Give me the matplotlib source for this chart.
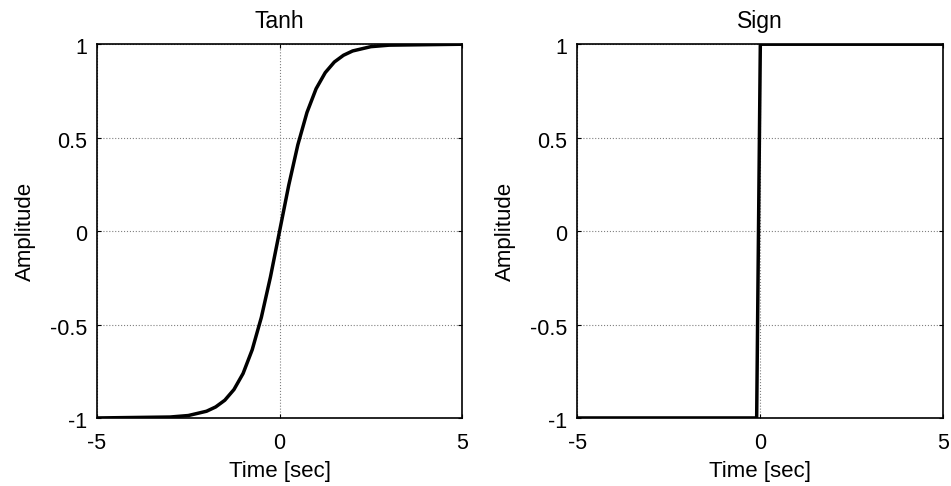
import numpy as np
import matplotlib.pyplot as plt
from matplotlib.transforms import ScaledTranslation

# Values
tanh_x = [-5, -3, -2.5, -2, -1.75, -1.5, -1.25, -1, -0.75, -0.5, -0.25, 0,
          0.25, 0.5, 0.75, 1, 1.25, 1.5, 1.75, 2, 2.5, 3, 5]
tanh_y = [-1, -0.995, -0.987, -0.964, -0.941, -0.905, -0.848, -0.762, -0.635,
          -0.462, -0.245, 0, 0.245, 0.462, 0.635, 0.762, 0.848, 0.905, 0.941,
          0.964, 0.987, 0.995, 1]
sign_x = [-5, -0.1, 0, 5]
sign_y = [-1, -1, 1, 1]

x_ticks = [-5, 0, 5]
y_ticks = [-1, -0.5, 0, 0.5, 1]
y_tick_labels = ["-1", "-0.5", "0", "0.5", "1"]

plt.rcParams['font.family'] = ['Liberation Sans', 'DejaVu Sans']
plt.rcParams['font.size'] = 16

fig = plt.figure(figsize=(9.51, 4.86), dpi=100)
ax1 = fig.add_axes([0.102, 0.140, 0.384, 0.769])
ax2 = fig.add_axes([0.607, 0.140, 0.385, 0.769])

panels = [(ax1, tanh_x, tanh_y, "Tanh"), (ax2, sign_x, sign_y, "Sign")]
for ax, xs, ys, title in panels:
    ax.plot(xs, ys, color='black', lw=2.5, solid_joinstyle='round')
    ax.set_xlim(-5, 5)
    ax.set_ylim(-1, 1)
    ax.set_xticks(x_ticks)
    ax.set_xticklabels([str(t) for t in x_ticks])
    ax.set_yticks(y_ticks)
    ax.set_yticklabels(y_tick_labels)
    ax.grid(True, color='#808080', linestyle=':', linewidth=0.8)
    ax.tick_params(direction='in', length=3, width=0.8, top=True, right=True,
                   colors='black', labelsize=15.5)
    ax.tick_params(axis='x', pad=11)
    ax.tick_params(axis='y', pad=7)
    # matlab puts the y labels a touch lower
    shift = ScaledTranslation(0, -1.5 / 72, fig.dpi_scale_trans)
    for lbl in ax.get_yticklabels():
        lbl.set_transform(lbl.get_transform() + shift)
    for s in ax.spines.values():
        s.set_linewidth(1.2)
    ax.set_title(title, pad=12, fontsize=16.5)
    ax.set_xlabel("Time [sec]", labelpad=5)
    ax.set_ylabel("Amplitude", labelpad=10)

fig.savefig("out.png", dpi=100)
